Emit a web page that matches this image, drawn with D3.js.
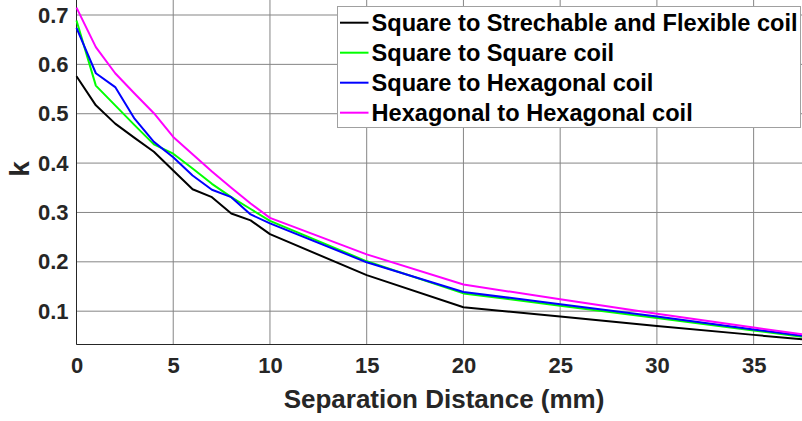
<!DOCTYPE html>
<html>
<head>
<meta charset="utf-8">
<script src="https://cdn.jsdelivr.net/npm/d3@7"></script>
<style>
  body { margin: 0; background: #fff; }
  svg { display: block; }
  text { font-family: "Liberation Sans", Arial, sans-serif; font-weight: bold; }
</style>
</head>
<body>
<svg id="chart" width="802" height="421"></svg>
<script>
// separation distance (mm)
var distance = [0, 1, 2, 3, 4, 5, 6, 7, 8, 9, 10, 15, 20, 25, 30, 35, 37.5];

// coupling coefficient k for each coil pair
var squareToFlexible = [0.576, 0.517, 0.480, 0.451, 0.423, 0.385, 0.347, 0.331, 0.298, 0.284, 0.256, 0.173, 0.108, 0.089, 0.070, 0.052, 0.043];
var squareToSquare   = [0.689, 0.557, 0.517, 0.477, 0.438, 0.419, 0.389, 0.358, 0.331, 0.307, 0.283, 0.201, 0.136, 0.111, 0.086, 0.061, 0.048];
var squareToHex      = [0.674, 0.582, 0.554, 0.490, 0.443, 0.412, 0.375, 0.346, 0.331, 0.296, 0.278, 0.199, 0.139, 0.114, 0.089, 0.063, 0.050];
var hexToHex         = [0.715, 0.635, 0.582, 0.541, 0.501, 0.453, 0.418, 0.383, 0.350, 0.318, 0.289, 0.215, 0.154, 0.124, 0.095, 0.067, 0.053];

var seriesNames = ["Square to Strechable and Flexible coil", "Square to Square coil",
                   "Square to Hexagonal coil", "Hexagonal to Hexagonal coil"];
var seriesColors = ["#000000", "#00ff00", "#0000ff", "#ff00ff"];
var seriesValues = [squareToFlexible, squareToSquare, squareToHex, hexToHex];

var xTicks = [0, 5, 10, 15, 20, 25, 30, 35];
var yTicks = [0.1, 0.2, 0.3, 0.4, 0.5, 0.6, 0.7];

var svg = d3.select("#chart");
var plotLeft = 76.5, plotRight = 802, plotTop = 0, plotBottom = 344.5;

var xScale = d3.scaleLinear().domain([0, 37.5]).range([plotLeft, plotRight]);
var yScale = d3.scaleLinear().domain([0.0325, 0.7304]).range([plotBottom, plotTop]);

// grid
var grid = svg.append("g");
grid.selectAll("line.vx").data(xTicks).enter().append("line")
  .attr("x1", function (d) { return xScale(d); })
  .attr("x2", function (d) { return xScale(d); })
  .attr("y1", plotTop).attr("y2", plotBottom)
  .attr("stroke", "#858585").attr("stroke-width", 1);
grid.selectAll("line.hy").data(yTicks).enter().append("line")
  .attr("y1", function (d) { return yScale(d); })
  .attr("y2", function (d) { return yScale(d); })
  .attr("x1", plotLeft).attr("x2", plotRight)
  .attr("stroke", "#858585").attr("stroke-width", 1);

// axes
var xAxis = d3.axisBottom(xScale).tickValues(xTicks).tickSize(0).tickPadding(13)
  .tickFormat(d3.format("d"));
var yAxis = d3.axisLeft(yScale).tickValues(yTicks).tickSize(0).tickPadding(8)
  .tickFormat(d3.format(".1f"));

var gx = svg.append("g").attr("transform", "translate(0," + plotBottom + ")").call(xAxis);
var gy = svg.append("g").attr("transform", "translate(" + plotLeft + ",0)").call(yAxis);
gx.select(".domain").remove();
gy.select(".domain").remove();
[gx, gy].forEach(function (g) {
  g.selectAll("text")
    .attr("fill", "#262626")
    .style("font-size", "22px")
    .style("font-family", "'Liberation Sans', Arial, sans-serif")
    .style("font-weight", "bold");
});

svg.append("line").attr("x1", plotLeft).attr("x2", plotLeft).attr("y1", plotTop).attr("y2", plotBottom)
  .attr("stroke", "#262626").attr("stroke-width", 1);
svg.append("line").attr("x1", plotLeft).attr("x2", plotRight).attr("y1", plotBottom).attr("y2", plotBottom)
  .attr("stroke", "#262626").attr("stroke-width", 1);

// lines
var line = d3.line()
  .x(function (d, i) { return xScale(distance[i]); })
  .y(function (d) { return yScale(d); });

svg.append("g").selectAll("path").data(seriesValues).enter().append("path")
  .attr("d", line)
  .attr("fill", "none")
  .attr("stroke", function (d, i) { return seriesColors[i]; })
  .attr("stroke-width", 2)
  .attr("stroke-linejoin", "round");

// axis labels
svg.append("text")
  .attr("x", 444).attr("y", 408)
  .attr("text-anchor", "middle")
  .attr("fill", "#262626")
  .style("font-size", "26px")
  .text("Separation Distance (mm)");

svg.append("text")
  .attr("transform", "translate(28.5,169) rotate(-90)")
  .attr("text-anchor", "middle")
  .attr("fill", "#262626")
  .style("font-size", "28px")
  .text("k");

// legend
var legend = svg.append("g");
legend.append("rect")
  .attr("x", 337.5).attr("y", 6.5).attr("width", 463).attr("height", 121)
  .attr("fill", "#fff").attr("stroke", "#a0a0a0").attr("stroke-width", 1);

var rows = legend.selectAll("g.row").data(seriesNames).enter().append("g")
  .attr("transform", function (d, i) { return "translate(0," + (22.7 + i * 30) + ")"; });
rows.append("line")
  .attr("x1", 340).attr("x2", 368.5).attr("y1", 0).attr("y2", 0)
  .attr("stroke", function (d, i) { return seriesColors[i]; })
  .attr("stroke-width", 2);
rows.append("text")
  .attr("x", 371.5).attr("y", 8.5)
  .attr("fill", "#000")
  .style("font-size", "23.6px")
  .text(function (d) { return d; });
</script>
</body>
</html>
